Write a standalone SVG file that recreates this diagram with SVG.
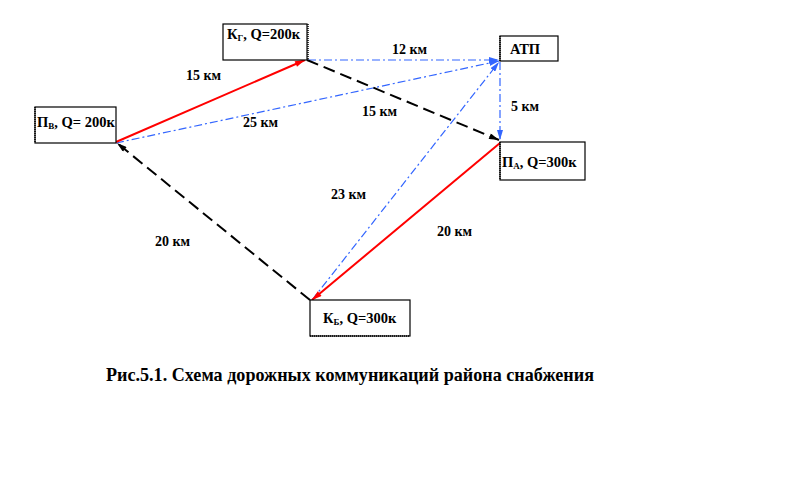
<svg xmlns="http://www.w3.org/2000/svg" width="812" height="497" viewBox="0 0 812 497">
<defs>
<style>
.box{fill:#fff;stroke:#000;stroke-width:1.2}
.sh{fill:none;stroke:#000;stroke-width:1.5;stroke-dasharray:1 1}
.t{font-family:'Liberation Serif','DejaVu Serif',serif;font-weight:bold;font-size:14.5px;fill:#000}
.sub{font-size:9px}
.lbl{font-family:'Liberation Serif','DejaVu Serif',serif;font-weight:bold;font-size:14px;fill:#000}
.cap{font-family:'Liberation Serif','DejaVu Serif',serif;font-weight:bold;font-size:19px;fill:#000}
.red{stroke:#ff0000;stroke-width:2;fill:none}
.blk{stroke:#000;stroke-width:2;fill:none;stroke-dasharray:12 6}
.blu{stroke:#3366ff;stroke-width:1.2;fill:none;stroke-dasharray:8 3 2 3}
</style>
<marker id="ar" viewBox="0 0 10 6" refX="10" refY="3" markerWidth="11" markerHeight="6" markerUnits="userSpaceOnUse" orient="auto"><path d="M0,0 L10,3 L0,6 z" fill="#ff0000"/></marker>
<marker id="ab" viewBox="0 0 10 6" refX="10" refY="3" markerWidth="11" markerHeight="6" markerUnits="userSpaceOnUse" orient="auto"><path d="M0,0 L10,3 L0,6 z" fill="#000"/></marker>
<marker id="au" viewBox="0 0 10 6" refX="10" refY="3" markerWidth="10" markerHeight="6" markerUnits="userSpaceOnUse" orient="auto"><path d="M0,0 L10,3 L0,6 z" fill="#3366ff"/></marker>
</defs>
<rect width="812" height="497" fill="#fff"/>
<g id="connectors">
<line class="blu" x1="308" y1="60" x2="499" y2="60" marker-end="url(#au)"/>
<line class="blu" x1="116" y1="143" x2="499" y2="61" marker-end="url(#au)"/>
<line class="blu" x1="312" y1="300" x2="499" y2="62" marker-end="url(#au)"/>
<line class="blu" x1="500" y1="62" x2="500" y2="140" marker-end="url(#au)"/>
<line class="red" x1="116" y1="142" x2="305" y2="60" marker-end="url(#ar)"/>
<line class="red" x1="500" y1="143" x2="312" y2="300" marker-end="url(#ar)"/>
<line class="blk" x1="307" y1="60" x2="499" y2="140" marker-end="url(#ab)"/>
<line class="blk" x1="310" y1="300" x2="117" y2="143" marker-end="url(#ab)"/>
</g>
<g id="labels">
<text class="lbl" x="186" y="80">15 км</text>
<text class="lbl" x="392" y="54">12 км</text>
<text class="lbl" x="511" y="111">5 км</text>
<text class="lbl" x="362" y="116">15 км</text>
<text class="lbl" x="243" y="127">25 км</text>
<text class="lbl" x="331" y="199">23 км</text>
<text class="lbl" x="437" y="236">20 км</text>
<text class="lbl" x="155" y="246">20 км</text>
</g>
<g id="node-kg">
<rect class="box" x="223" y="24" width="84" height="36"/>
<line class="sh" x1="308" y1="24" x2="308" y2="60"/>
<text class="t" x="227" y="39">К<tspan class="sub" dy="2">Г</tspan><tspan dy="-2">, Q=200к</tspan></text>
</g>
<g id="node-pv">
<rect class="box" x="35" y="107" width="81" height="36"/>
<line class="sh" x1="35" y1="107" x2="35" y2="143"/>
<text class="t" x="37" y="127">П<tspan class="sub" dy="2">В</tspan><tspan dy="-2">, Q= 200к</tspan></text>
</g>
<g id="node-atp">
<rect class="box" x="500" y="36" width="58" height="25"/>
<line class="sh" x1="500" y1="36" x2="500" y2="61"/>
<text class="t" x="510" y="54">АТП</text>
</g>
<g id="node-pa">
<rect class="box" x="500" y="142" width="85" height="38"/>
<line class="sh" x1="500" y1="142" x2="500" y2="180"/>
<text class="t" x="502" y="167">П<tspan class="sub" dy="2">А</tspan><tspan dy="-2">, Q=300к</tspan></text>
</g>
<g id="node-kb">
<rect class="box" x="310" y="300" width="100" height="36"/>
<line class="sh" x1="310" y1="336" x2="410" y2="336"/>
<text class="t" x="323" y="323">К<tspan class="sub" dy="2">Б</tspan><tspan dy="-2">, Q=300к</tspan></text>
</g>
<text class="cap" x="106" y="381" textLength="488" lengthAdjust="spacingAndGlyphs">Рис.5.1. Схема дорожных коммуникаций района снабжения</text>
</svg>
